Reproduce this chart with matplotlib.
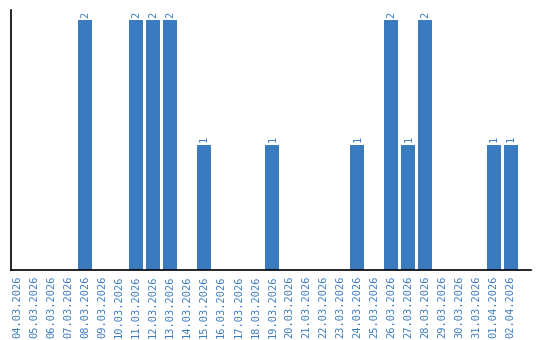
import matplotlib
matplotlib.use("Agg")
import matplotlib.pyplot as plt

dates = ["04.03.2026", "05.03.2026", "06.03.2026", "07.03.2026", "08.03.2026",
         "09.03.2026", "10.03.2026", "11.03.2026", "12.03.2026", "13.03.2026",
         "14.03.2026", "15.03.2026", "16.03.2026", "17.03.2026", "18.03.2026",
         "19.03.2026", "20.03.2026", "21.03.2026", "22.03.2026", "23.03.2026",
         "24.03.2026", "25.03.2026", "26.03.2026", "27.03.2026", "28.03.2026",
         "29.03.2026", "30.03.2026", "31.03.2026", "01.04.2026", "02.04.2026"]
counts = [0, 0, 0, 0, 2, 0, 0, 2, 2, 2, 0, 1, 0, 0, 0, 1, 0, 0, 0, 0,
          1, 0, 2, 1, 2, 0, 0, 0, 1, 1]

blue = "#3a7bc0"
fig = plt.figure(figsize=(5.4, 3.4), dpi=100)
ax = fig.add_axes([11/540, 1 - 270/340, 520/540, 260/340])
x = list(range(len(dates)))
bars = ax.bar(x, counts, width=0.82, color=blue)
for xi, v in zip(x, counts):
    if v > 0:
        ax.text(xi, v + 0.02, str(v), rotation=90, ha="center", va="bottom",
                color=blue, fontsize=7.5, family="DejaVu Sans Mono")
ax.set_xlim(-0.35, 30.2)
ax.set_ylim(0, 2.08)
ax.set_xticks(x)
ax.set_xticklabels(dates, rotation=90, color=blue, fontsize=7.5,
                   family="DejaVu Sans Mono")
ax.tick_params(axis="x", length=0, pad=4)
ax.set_yticks([])
for s in ["top", "right"]:
    ax.spines[s].set_visible(False)
ax.spines["left"].set_linewidth(1.2)
ax.spines["bottom"].set_linewidth(1.2)
fig.savefig("out.png", dpi=100)
